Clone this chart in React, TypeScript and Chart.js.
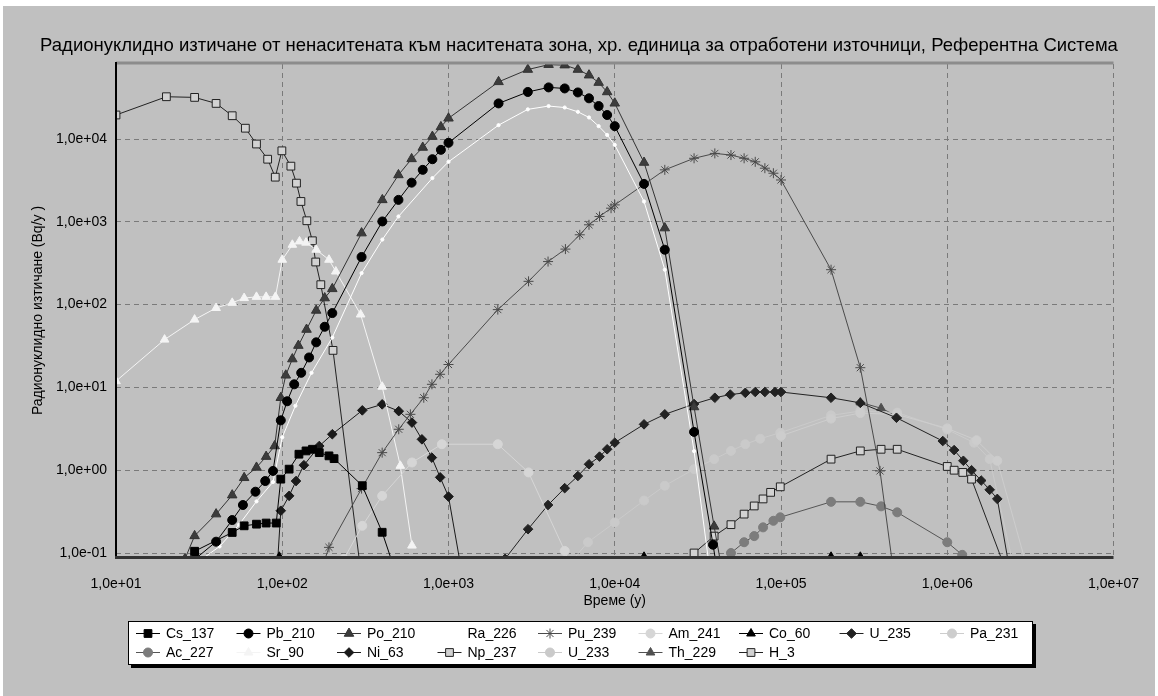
import React, { useEffect, useRef } from 'react';
import { Chart, registerables } from 'chart.js';

Chart.register(...registerables);

const FONT = "'Liberation Sans', Arial, sans-serif";
const TITLE = 'Радионуклидно изтичане от ненаситената към наситената зона, хр. единица за отработени източници, Референтна Система';
const X_TITLE = 'Време (y)';
const Y_TITLE = 'Радионуклидно изтичане (Bq/y )';

const X_TICKS = [1e1, 1e2, 1e3, 1e4, 1e5, 1e6, 1e7];
const Y_TICKS = [1e-1, 1e0, 1e1, 1e2, 1e3, 1e4];

// ---- series data (time in years, release in Bq/y) ----
const CS137_T = [25, 29.7, 50, 59, 70, 80, 92, 98, 110, 126, 139, 152, 167, 191, 205, 303, 399, 456];
const CS137_V = [0.07, 0.105, 0.177, 0.213, 0.223, 0.23, 0.23, 0.78, 1.03, 1.56, 1.71, 1.79, 1.63, 1.49, 1.38, 0.65, 0.178, 0.08];

const PB210_T = [30, 40, 50, 58, 69, 79, 88, 98, 107, 118, 130, 145, 160, 180, 200, 300, 400, 500, 600, 700, 800, 900, 1000, 2000, 3000, 4000, 5000, 6000, 7000, 8000, 9000, 10000, 15000, 20000, 30000, 39000, 42000];
const PB210_V = [0.085, 0.137, 0.25, 0.38, 0.55, 0.74, 0.98, 4.0, 6.8, 10.9, 15, 23, 35, 54, 79, 376, 1010, 1840, 2970, 4240, 5700, 7400, 9000, 26900, 37000, 42000, 40800, 36500, 31000, 25000, 19500, 14300, 2870, 460, 2.9, 0.126, 0.05];

const PO210_T = [26, 29.7, 40, 50, 59, 70, 80, 90, 98, 105, 115, 125, 140, 160, 180, 200, 300, 400, 500, 600, 700, 800, 900, 1000, 2000, 3000, 4000, 5000, 6000, 7000, 8000, 9000, 10000, 15000, 20000, 30000, 39600, 45000];
const PO210_V = [0.085, 0.161, 0.295, 0.5, 0.81, 1.08, 1.46, 1.96, 7.5, 14, 22, 32, 50, 85, 120, 155, 730, 1840, 3680, 5750, 7900, 10700, 14000, 17800, 49000, 69000, 79000, 78000, 69000, 59000, 48000, 37000, 27000, 5200, 840, 5.8, 0.21, 0.05];

const RA226_T = [33, 42, 55, 70, 88, 100, 120, 150, 200, 300, 400, 500, 800, 1000, 2000, 3000, 4000, 5000, 6000, 7000, 8000, 9000, 10000, 15000, 20000, 30000, 37000];
const RA226_V = [0.085, 0.12, 0.22, 0.42, 0.72, 2.5, 6, 15, 40, 240, 610, 1160, 3370, 5300, 14700, 22800, 25000, 24000, 21300, 18200, 14300, 11200, 8500, 1760, 264, 1.7, 0.07];

const PU239_T = [175, 191, 300, 399, 502, 590, 710, 795, 890, 1000, 1980, 3030, 3970, 5050, 6160, 7000, 8100, 9500, 10000, 20000, 30000, 40000, 50000, 60000, 70000, 80000, 90000, 100000, 200000, 300000, 394000, 470000];
const PU239_V = [0.07, 0.117, 0.6, 1.63, 3.12, 4.73, 7.5, 10.9, 14.4, 18.9, 87, 191, 331, 468, 697, 920, 1160, 1460, 1600, 4240, 5850, 6700, 6400, 5850, 5300, 4440, 3860, 3200, 264, 17.3, 0.98, 0.07];

const AM241_T = [235, 303, 399, 603, 912, 1980, 3030, 5000, 5600];
const AM241_V = [0.085, 0.213, 0.49, 1.24, 2.06, 2.06, 0.94, 0.106, 0.06];

const CO60_T = [96, 15000, 200000, 300000];
const CO60_V = [0.09, 0.09, 0.09, 0.09];

const U235_T = [2190, 3010, 3970, 5000, 6000, 7000, 8100, 9000, 10000, 15000, 20000, 30000, 40000, 49500, 61000, 70000, 80000, 92000, 100000, 200000, 300000, 495000, 940000, 1100000, 1250000, 1400000, 1600000, 1800000, 2000000, 2350000];
const U235_V = [0.085, 0.194, 0.38, 0.607, 0.85, 1.18, 1.46, 1.79, 2.15, 3.58, 4.73, 6.3, 7.5, 8.2, 8.6, 8.8, 8.8, 8.8, 8.8, 7.5, 6.5, 4.3, 2.25, 1.75, 1.3, 1.0, 0.75, 0.58, 0.45, 0.07];

const PA231_T = [100000, 200000, 300000, 500000, 1000000, 1500000, 2000000, 3000000];
const PA231_V = [2.6, 4.2, 4.9, 4.7, 3.2, 2.3, 1.3, 0.07];

const AC227_T = [45000, 50000, 60000, 69000, 78000, 90000, 99000, 200000, 300000, 400000, 500000, 1000000, 1230000, 1400000];
const AC227_V = [0.07, 0.1, 0.135, 0.16, 0.204, 0.245, 0.27, 0.415, 0.415, 0.366, 0.31, 0.135, 0.095, 0.07];

const SR90_T = [10, 19.6, 29.7, 40, 50, 59, 70, 80, 91, 100, 115, 127, 139, 160, 191, 210, 296, 399, 513, 603];
const SR90_V = [11.9, 37.8, 65.9, 91, 105, 120, 124, 124, 124, 348, 528, 580, 560, 460, 348, 251, 76, 10.2, 1.13, 0.123];

const NI63_T = [93, 98, 110, 121, 135, 167, 200, 303, 399, 502, 603, 692, 794, 891, 1000, 1200];
const NI63_V = [0.06, 0.324, 0.49, 0.74, 1.15, 1.96, 2.72, 5.28, 6.24, 5.17, 3.76, 2.36, 1.42, 0.82, 0.48, 0.06];

const NP237_T = [30000, 39600, 50000, 60000, 69000, 78000, 86600, 99000, 200000, 300000, 400000, 500000, 1000000, 1100000, 1240000, 1400000, 2200000];
const NP237_V = [0.10, 0.16, 0.22, 0.295, 0.37, 0.45, 0.54, 0.63, 1.36, 1.71, 1.79, 1.79, 1.11, 1.0, 0.94, 0.78, 0.07];

const U233_T = [5500, 6900, 10000, 15000, 20000, 30000, 39600, 50000, 61000, 75000, 99000, 200000, 300000, 500000, 1000000, 1450000, 1800000, 2500000];
const U233_V = [0.08, 0.135, 0.234, 0.43, 0.65, 1.03, 1.36, 1.71, 2.06, 2.4, 2.84, 4.6, 5.19, 4.96, 3.1, 2.15, 1.36, 0.07];

const TH229_T = [300000, 400000, 500000];
const TH229_V = [6.6, 5.6, 4.5];

const H3_T = [10, 20.1, 29.7, 40, 50, 60, 70, 81.7, 90.8, 99.5, 112.7, 121.8, 129.5, 140.6, 151.8, 159, 170.6, 202, 300];
const H3_V = [19500, 32400, 31800, 26900, 19100, 13500, 8700, 5700, 3460, 7200, 4700, 2930, 1760, 1030, 590, 327, 174, 28, 0.05];

type Shape = 'rect' | 'circle' | 'triangle' | 'star' | 'rectRot';
interface Sty { line: string; stroke: string; fill: string; shape: Shape; r: number }

const SERIES: { label: string; t: number[]; v: number[]; s: Sty }[] = [
  { label: 'Cs_137', t: CS137_T, v: CS137_V, s: { line: '#000000', stroke: '#000000', fill: '#000000', shape: 'rect', r: 5.5 } },
  { label: 'Pb_210', t: PB210_T, v: PB210_V, s: { line: '#000000', stroke: '#000000', fill: '#000000', shape: 'circle', r: 4.5 } },
  { label: 'Po_210', t: PO210_T, v: PO210_V, s: { line: '#333333', stroke: '#333333', fill: '#3c3c3c', shape: 'triangle', r: 5.5 } },
  { label: 'Ra_226', t: RA226_T, v: RA226_V, s: { line: '#ffffff', stroke: '#ffffff', fill: '#ffffff', shape: 'circle', r: 1.6 } },
  { label: 'Pu_239', t: PU239_T, v: PU239_V, s: { line: '#4a4a4a', stroke: '#4a4a4a', fill: '#4a4a4a', shape: 'star', r: 5 } },
  { label: 'Am_241', t: AM241_T, v: AM241_V, s: { line: '#d6d6d6', stroke: '#d6d6d6', fill: '#d6d6d6', shape: 'circle', r: 4.5 } },
  { label: 'Co_60', t: CO60_T, v: CO60_V, s: { line: '#000000', stroke: '#000000', fill: '#000000', shape: 'triangle', r: 5 } },
  { label: 'U_235', t: U235_T, v: U235_V, s: { line: '#222222', stroke: '#222222', fill: '#222222', shape: 'rectRot', r: 4.8 } },
  { label: 'Pa_231', t: PA231_T, v: PA231_V, s: { line: '#cdcdcd', stroke: '#cdcdcd', fill: '#cdcdcd', shape: 'circle', r: 4.5 } },
  { label: 'Ac_227', t: AC227_T, v: AC227_V, s: { line: '#555555', stroke: '#7c7c7c', fill: '#7c7c7c', shape: 'circle', r: 4.5 } },
  { label: 'Sr_90', t: SR90_T, v: SR90_V, s: { line: '#f4f4f4', stroke: '#f4f4f4', fill: '#f4f4f4', shape: 'triangle', r: 5 } },
  { label: 'Ni_63', t: NI63_T, v: NI63_V, s: { line: '#1a1a1a', stroke: '#1a1a1a', fill: '#1a1a1a', shape: 'rectRot', r: 4.8 } },
  { label: 'Np_237', t: NP237_T, v: NP237_V, s: { line: '#222222', stroke: '#222222', fill: '#d2d2d2', shape: 'rect', r: 5.5 } },
  { label: 'U_233', t: U233_T, v: U233_V, s: { line: '#cacaca', stroke: '#cacaca', fill: '#cacaca', shape: 'circle', r: 4.5 } },
  { label: 'Th_229', t: TH229_T, v: TH229_V, s: { line: '#505050', stroke: '#505050', fill: '#505050', shape: 'triangle', r: 5 } },
  { label: 'H_3', t: H3_T, v: H3_V, s: { line: '#222222', stroke: '#222222', fill: '#d2d2d2', shape: 'rect', r: 5.5 } },
];

const fmtExp = (v: number) => {
  const e = Math.round(Math.log10(v));
  return '1,0e' + (e < 0 ? '-' : '+') + String(Math.abs(e)).padStart(2, '0');
};

function drawMarker(ctx: CanvasRenderingContext2D, s: Sty, x: number, y: number) {
  const r = s.r;
  ctx.beginPath();
  if (s.shape === 'circle') {
    ctx.arc(x, y, r, 0, Math.PI * 2);
  } else if (s.shape === 'rect') {
    const h = r * Math.SQRT1_2;
    ctx.rect(x - h, y - h, 2 * h, 2 * h);
  } else if (s.shape === 'rectRot') {
    ctx.moveTo(x, y - r); ctx.lineTo(x + r, y); ctx.lineTo(x, y + r); ctx.lineTo(x - r, y); ctx.closePath();
  } else if (s.shape === 'triangle') {
    for (let k = 0; k < 3; k++) {
      const a = (k * 2 * Math.PI) / 3;
      const px = x + Math.sin(a) * r, py = y - Math.cos(a) * r;
      if (k === 0) ctx.moveTo(px, py); else ctx.lineTo(px, py);
    }
    ctx.closePath();
  } else {
    for (let k = 0; k < 4; k++) {
      const a = (k * Math.PI) / 4;
      ctx.moveTo(x + Math.cos(a) * r, y + Math.sin(a) * r);
      ctx.lineTo(x - Math.cos(a) * r, y - Math.sin(a) * r);
    }
  }
  if (s.shape !== 'star') { ctx.fillStyle = s.fill; ctx.fill(); }
  ctx.strokeStyle = s.stroke; ctx.lineWidth = 1; ctx.stroke();
}

const LEG = { x: 128, y: 621, w: 905, h: 44, col: 100.5, row: 19 };

const bgPlugin = {
  id: 'bgFrame',
  beforeDraw(chart: any) {
    const { ctx, width, height } = chart;
    ctx.save();
    ctx.fillStyle = '#ffffff';
    ctx.fillRect(0, 0, width, height);
    ctx.fillStyle = '#c0c0c0';
    ctx.fillRect(3, 6, width - 6, height - 6);
    ctx.restore();
  },
  afterDatasetsDraw(chart: any) {
    const { ctx, chartArea: a } = chart;
    ctx.save();
    ctx.strokeStyle = '#8c8c8c'; ctx.lineWidth = 3;
    ctx.beginPath(); ctx.moveTo(a.left, a.top - 1); ctx.lineTo(a.right, a.top - 1); ctx.stroke();
    ctx.strokeStyle = '#000000'; ctx.lineWidth = 2;
    ctx.beginPath(); ctx.moveTo(a.left, a.top - 2); ctx.lineTo(a.left, a.bottom); ctx.stroke();
    ctx.strokeStyle = '#333333'; ctx.lineWidth = 3;
    ctx.beginPath(); ctx.moveTo(a.left - 1, a.bottom + 0.5); ctx.lineTo(a.right, a.bottom + 0.5); ctx.stroke();
    ctx.restore();
  },
  afterDraw(chart: any) {
    const ctx: CanvasRenderingContext2D = chart.ctx;
    ctx.save();
    ctx.fillStyle = '#000000';
    ctx.fillRect(LEG.x + 3, LEG.y + 3, LEG.w, LEG.h);
    ctx.fillStyle = '#ffffff';
    ctx.fillRect(LEG.x, LEG.y, LEG.w, LEG.h);
    ctx.strokeStyle = '#000000'; ctx.lineWidth = 1;
    ctx.strokeRect(LEG.x + 0.5, LEG.y + 0.5, LEG.w - 1, LEG.h - 1);
    ctx.font = `14px ${FONT}`;
    ctx.textBaseline = 'middle';
    SERIES.forEach((sr, i) => {
      const col = i % 9, row = Math.floor(i / 9);
      const x0 = LEG.x + 8 + col * LEG.col;
      const y = LEG.y + 12.5 + row * LEG.row;
      ctx.strokeStyle = sr.s.line; ctx.lineWidth = 1;
      ctx.beginPath(); ctx.moveTo(x0, y); ctx.lineTo(x0 + 24, y); ctx.stroke();
      drawMarker(ctx, sr.s, x0 + 12, y);
      ctx.fillStyle = '#000000';
      ctx.fillText(sr.label, x0 + 30, y + 0.5);
    });
    ctx.restore();
  },
};

export default function App() {
  const ref = useRef<HTMLCanvasElement | null>(null);
  useEffect(() => {
    document.body.style.margin = '0';
    const canvas = ref.current;
    if (!canvas) return;
    const datasets = SERIES.map((sr) => ({
      label: sr.label,
      data: sr.t.map((x, i) => ({ x, y: sr.v[i] })),
      borderColor: sr.s.line,
      backgroundColor: sr.s.fill,
      borderWidth: 1,
      pointStyle: sr.s.shape,
      pointRadius: sr.s.r,
      pointBackgroundColor: sr.s.fill,
      pointBorderColor: sr.s.stroke,
      pointBorderWidth: 1,
      tension: 0,
      fill: false,
    }));
    const tickFont = { family: FONT, size: 14 };
    const chart = new Chart(canvas, {
      type: 'line',
      data: { datasets },
      options: {
        responsive: false,
        animation: false,
        devicePixelRatio: 1,
        layout: { padding: 0 },
        plugins: {
          legend: { display: false },
          tooltip: { enabled: false },
          title: {
            display: true,
            text: TITLE,
            color: '#000000',
            font: { family: FONT, size: 18.5, weight: 'normal' },
            padding: { top: 35, bottom: 6.8 },
          },
        },
        scales: {
          x: {
            type: 'logarithmic',
            position: 'bottom',
            min: 10,
            max: 1e7,
            afterBuildTicks: (s: any) => { s.ticks = X_TICKS.map((value) => ({ value })); },
            afterFit: (s: any) => { s.height = 139; },
            ticks: { autoSkip: false, maxRotation: 0, padding: 19, color: '#000000', font: tickFont, callback: (v: any) => fmtExp(Number(v)) },
            grid: { color: '#7a7a7a', lineWidth: 1, drawTicks: false },
            border: { display: false, dash: [5, 4] },
            title: { display: true, text: X_TITLE, color: '#000000', font: { family: FONT, size: 14 }, padding: { top: 0, bottom: 86 } },
          },
          y: {
            type: 'logarithmic',
            position: 'left',
            min: 0.0895,
            max: 80500,
            afterBuildTicks: (s: any) => { s.ticks = Y_TICKS.map((value) => ({ value })); },
            afterFit: (s: any) => { s.width = 116; },
            ticks: { autoSkip: false, padding: 9, color: '#000000', font: tickFont, callback: (v: any) => fmtExp(Number(v)) },
            grid: { color: '#7a7a7a', lineWidth: 1, drawTicks: false },
            border: { display: false, dash: [5, 4] },
            title: { display: true, text: Y_TITLE, color: '#000000', font: { family: FONT, size: 14 }, padding: { top: 30, bottom: 0 } },
          },
          y2: {
            type: 'linear',
            position: 'right',
            display: true,
            afterFit: (s: any) => { s.width = 41; },
            ticks: { display: false },
            grid: { display: false, drawTicks: false },
            border: { display: false },
          },
        },
      } as any,
      plugins: [bgPlugin],
    });
    return () => chart.destroy();
  }, []);
  return (
    <div style={{ width: 1158, height: 696 }}>
      <canvas ref={ref} width={1158} height={696} style={{ display: 'block' }} />
    </div>
  );
}
